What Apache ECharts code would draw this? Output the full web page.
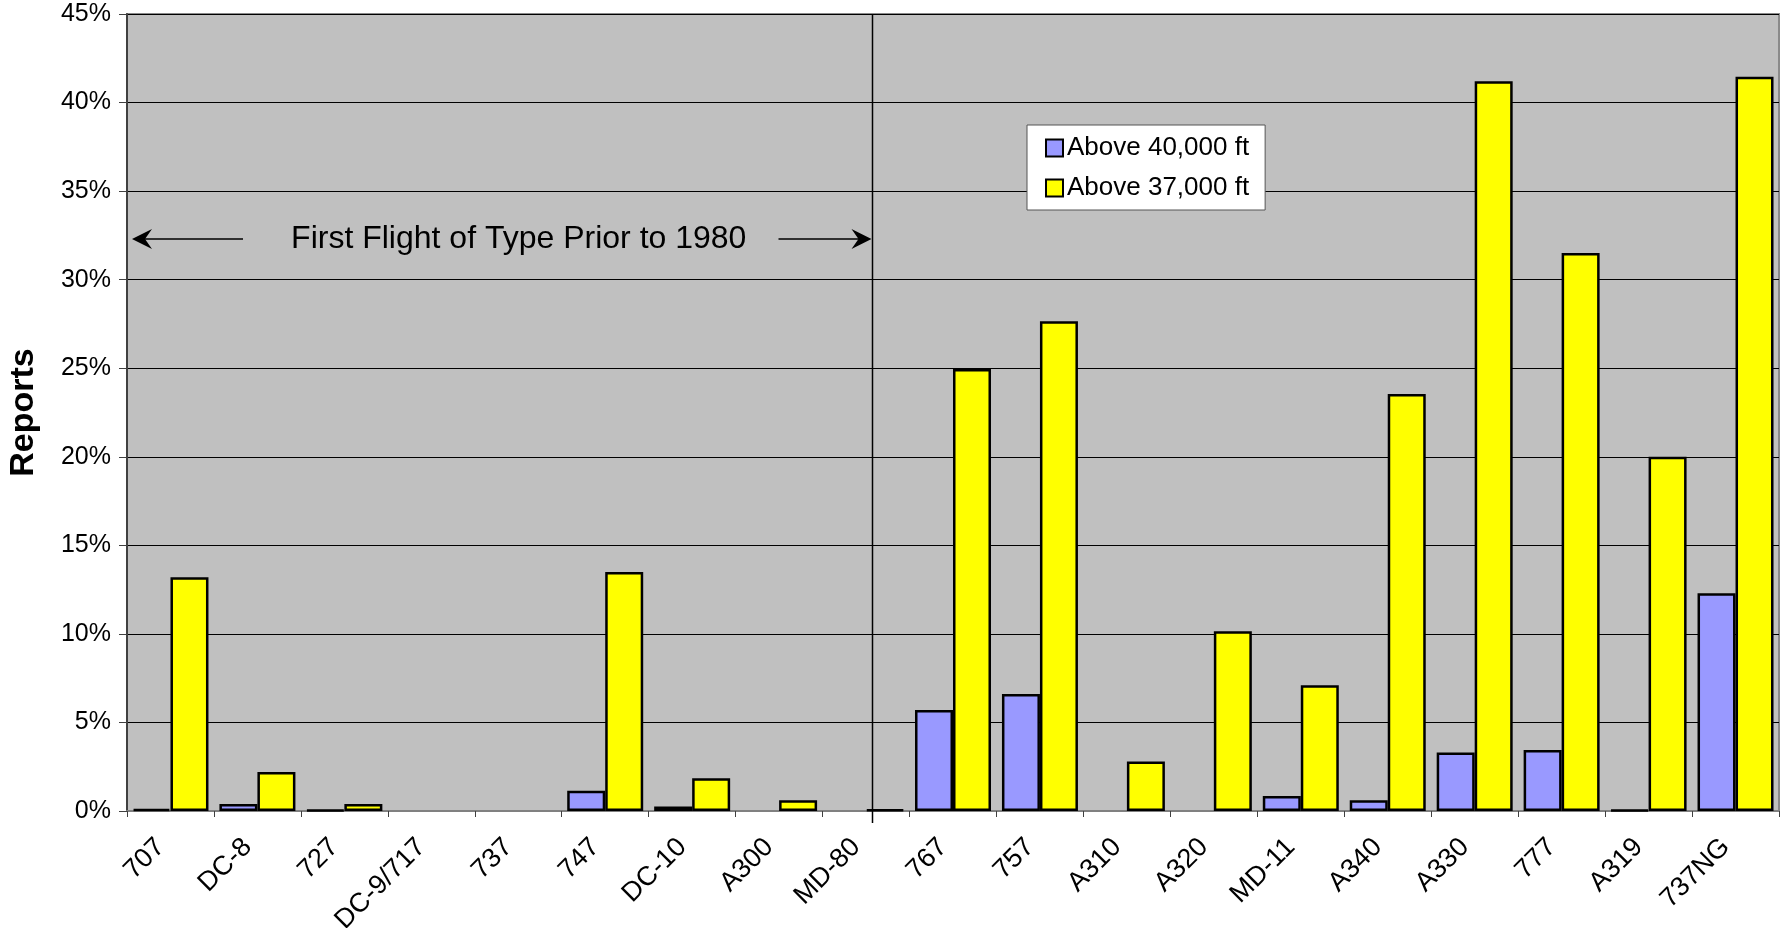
<!DOCTYPE html>
<html>
<head>
<meta charset="utf-8">
<script src="https://cdn.jsdelivr.net/npm/echarts@6/dist/echarts.min.js"></script>
<style>
  html, body { margin: 0; padding: 0; background: #ffffff; }
  #chart { width: 1786px; height: 928px; }
</style>
</head>
<body>
<div id="chart"></div>
<script>
// Aircraft types, ordered by first flight
const categories = ['707', 'DC-8', '727', 'DC-9/717', '737', '747', 'DC-10', 'A300', 'MD-80',
  '767', '757', 'A310', 'A320', 'MD-11', 'A340', 'A330', '777', 'A319', '737NG'];

// Share of reports (%) by altitude band
const above40000 = [0.12, 0.4, 0.06, 0, 0, 1.15, 0.25, 0, 0,
  5.7, 6.6, 0, 0, 0.85, 0.6, 3.3, 3.45, 0.05, 12.3];
const above37000 = [13.2, 2.2, 0.4, 0, 0, 13.5, 1.85, 0.6, 0.08,
  24.95, 27.65, 2.8, 10.15, 7.1, 23.55, 41.2, 31.5, 20.0, 41.45];

const seriesNames = ['Above 40,000 ft', 'Above 37,000 ft'];
const yTicks = { min: 0, max: 45, interval: 5 };
const lastPre1980Type = 'MD-80';
const noteText = 'First Flight of Type Prior to 1980';

const FONT = '"Liberation Sans", Arial, sans-serif';

// zero values draw no outline, so the empty slots stay clear
function toBarData(arr) {
  return arr.map(v => v === 0 ? { value: 0, itemStyle: { borderWidth: 0 } } : v);
}

const chart = echarts.init(document.getElementById('chart'), null, { renderer: 'canvas' });

const option = {
  animation: false,
  backgroundColor: '#ffffff',
  textStyle: { fontFamily: FONT },
  grid: {
    left: 127, right: 7, top: 14, bottom: 117,
    outerBoundsMode: 'none',
    containLabel: false,
    show: true,
    backgroundColor: '#c0c0c0',
    borderColor: '#8a8a8a',
    borderWidth: 2
  },
  legend: {
    orient: 'vertical',
    left: 1027, top: 125,
    padding: [10, 16, 9, 18],
    itemWidth: 17, itemHeight: 17, itemGap: 14,
    backgroundColor: '#ffffff',
    borderColor: '#555555', borderWidth: 1,
    borderRadius: 0,
    icon: 'rect',
    itemStyle: { borderColor: '#000000', borderWidth: 2 },
    textStyle: { fontFamily: FONT, fontSize: 26, color: '#000000', padding: [0, 0, 0, -1] },
    data: seriesNames
  },
  xAxis: {
    type: 'category',
    data: categories,
    boundaryGap: true,
    axisLine: { show: true, lineStyle: { color: '#808080', width: 2 } },
    axisTick: { show: true, interval: 0, length: 6, lineStyle: { color: '#404040', width: 1 } },
    axisLabel: {
      interval: 0, rotate: 45, margin: 22,
      padding: [0, 14, 0, 0],
      fontFamily: FONT, fontSize: 27, color: '#000000'
    },
    splitLine: { show: false }
  },
  yAxis: {
    type: 'value',
    min: yTicks.min, max: yTicks.max, interval: yTicks.interval,
    name: 'Reports',
    nameLocation: 'middle',
    nameRotate: 90,
    nameGap: 86,
    nameTextStyle: { fontFamily: FONT, fontSize: 34, fontWeight: 'bold', color: '#000000' },
    axisLine: { show: true, lineStyle: { color: '#404040', width: 2 } },
    axisTick: { show: true, length: 8, lineStyle: { color: '#404040', width: 1 } },
    axisLabel: {
      formatter: '{value}%', margin: 16,
      fontFamily: FONT, fontSize: 25, color: '#000000'
    },
    splitLine: { show: true, lineStyle: { color: '#000000', width: 1 } }
  },
  series: [
    {
      name: seriesNames[0],
      type: 'bar',
      data: toBarData(above40000),
      barGap: '0%',
      barCategoryGap: '12.6%',
      itemStyle: { color: '#9999ff', borderColor: '#000000', borderWidth: 2.5 }
    },
    {
      name: seriesNames[1],
      type: 'bar',
      data: toBarData(above37000),
      barGap: '0%',
      barCategoryGap: '12.6%',
      itemStyle: { color: '#ffff00', borderColor: '#000000', borderWidth: 2.5 }
    }
  ]
};

chart.setOption(option);

// Divider and "prior to 1980" note, placed from the axes
function drawAnnotations() {
  const xMid = chart.convertToPixel({ xAxisIndex: 0 }, lastPre1980Type);
  const xFirst = chart.convertToPixel({ xAxisIndex: 0 }, categories[0]);
  const band = chart.convertToPixel({ xAxisIndex: 0 }, categories[1]) - xFirst;
  const plotLeft = xFirst - band / 2;
  const divX = Math.round(xMid + band * 0.063) + 0.5;
  const yTop = chart.convertToPixel({ yAxisIndex: 0 }, yTicks.max);
  const yZero = chart.convertToPixel({ yAxisIndex: 0 }, 0);
  const yNote = chart.convertToPixel({ yAxisIndex: 0 }, 32.3);

  const lineStyle = { stroke: '#000000', lineWidth: 1.5 };
  const leftTip = plotLeft + 5;
  const rightTip = divX - 1;

  chart.setOption({
    graphic: [
      { type: 'line', z: 50, shape: { x1: divX, y1: yTop, x2: divX, y2: yZero + 12 },
        style: { stroke: '#000000', lineWidth: 1.5 } },
      // left arrow
      { type: 'line', z: 50, shape: { x1: leftTip + 10, y1: yNote, x2: leftTip + 111, y2: yNote }, style: lineStyle },
      { type: 'polygon', z: 50,
        shape: { points: [[leftTip, yNote], [leftTip + 20, yNote - 10], [leftTip + 13, yNote], [leftTip + 20, yNote + 10]] },
        style: { fill: '#000000' } },
      // right arrow
      { type: 'line', z: 50, shape: { x1: rightTip - 93, y1: yNote, x2: rightTip - 10, y2: yNote }, style: lineStyle },
      { type: 'polygon', z: 50,
        shape: { points: [[rightTip, yNote], [rightTip - 20, yNote - 10], [rightTip - 13, yNote], [rightTip - 20, yNote + 10]] },
        style: { fill: '#000000' } },
      { type: 'text', z: 50,
        x: (leftTip + 111 + rightTip - 93) / 2 + 8, y: yNote,
        style: { text: noteText, fontFamily: FONT, fontSize: 32, fill: '#000000',
          textAlign: 'center', textVerticalAlign: 'middle' } }
    ]
  });
}
drawAnnotations();
</script>
</body>
</html>
